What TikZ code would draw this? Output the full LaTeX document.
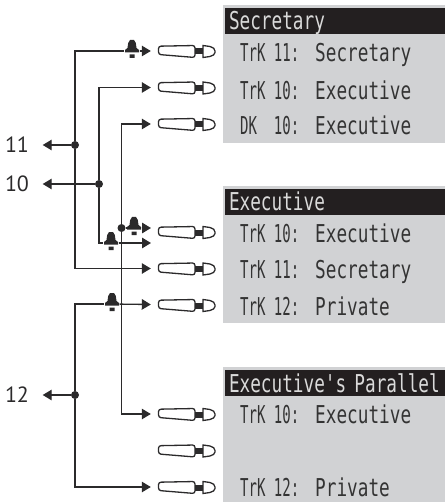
\documentclass[tikz,border=0pt]{standalone}
\usepackage{fontspec}
\usepackage{tikz}
\usetikzlibrary{arrows.meta}
\setmainfont{PT Sans}
\newfontfamily\lcdfont[FakeStretch=0.72]{DejaVu Sans Mono}
\newfontfamily\lcdtight[FakeStretch=0.57]{DejaVu Sans Mono}
\definecolor{ink}{HTML}{2B2A2B}
\definecolor{lcdgrey}{HTML}{D1D2D4}
\definecolor{lcdblack}{HTML}{231F20}
\definecolor{lcdlight}{HTML}{DADADA}
\definecolor{lcdink}{HTML}{333333}

\tikzset{
    wire/.style={draw=ink, line width=1.3pt},
    toset/.style={wire, ->, shorten >=6pt},
    tolabel/.style={wire, ->, shorten >=13.5pt},
    dot/.style={circle, fill=ink, inner sep=0pt, minimum size=8pt},
    trunk/.style={inner sep=0pt, text=ink, font=\fontsize{22}{22}\selectfont},
    panel/.style={fill=lcdgrey, inner sep=0pt, minimum width=222pt},
    header/.style={fill=lcdblack, text=lcdlight, inner sep=0pt, inner xsep=4pt, minimum height=26pt,
        text width=212pt, text height=18pt, text depth=0pt, font=\lcdfont\fontsize{24.6}{24.6}\selectfont},
    rowkey/.style={anchor=west, inner sep=0pt, text height=18pt, text depth=0pt, text=lcdink,
        font=\lcdtight\fontsize{24.6}{24.6}\selectfont},
    rowname/.style={anchor=west, inner sep=0pt, text height=18pt, text depth=0pt, text=lcdink,
        font=\lcdfont\fontsize{24.6}{24.6}\selectfont},
    bell/.style={inner sep=0pt, minimum width=15pt, minimum height=24pt, path picture={
        \fill [ink, shift={(path picture bounding box.center)}]
            (-7,1.5) -- (-7,-1) -- (-4.5,-3) -- (-3.8,-8) -- (-2,-11) -- (2,-11) -- (3.8,-8) -- (4.5,-3)
            -- (7,-1) -- (7,1.5) -- cycle (-2.5,3.5) rectangle (2.5,7);
    }},
    handset/.style={inner sep=0pt, minimum width=60pt, minimum height=18pt, path picture={
        \begin{scope}[shift={(path picture bounding box.center)}]
            \draw [ink, line width=1.3pt, fill=white, rounded corners=2.5pt]
                (-28.5,-4.8) -- (8,-5.5) -- (8,6.5) -- (-28.5,3.5) -- cycle;
            \fill [ink] (8,-2.5) rectangle (16,3.5);
            \draw [ink, line width=1.3pt, fill=white]
                (16,-5.5) -- (23,-4.5) .. controls (26,-4) and (28,-2) .. (28,0) -- (28,1.5)
                .. controls (28,3) and (26,5) .. (23,5.5) -- (16,6.5) -- cycle;
        \end{scope}
    }},
}

\begin{document}
\begin{tikzpicture}[x=1pt, y=-1pt, >={Triangle[length=9pt,width=10.5pt]}, node distance=36.5pt]
    \useasboundingbox (0,0) rectangle (445,502);

    % Panels
    \node [panel, minimum height=138pt]     (panelS) at (334,74)    {};
    \node [panel, minimum height=137pt]     (panelE) at (334,254.5) {};
    \node [panel, minimum height=135pt]     (panelP) at (334,434.5) {};
    \node [header]                          (headS)  at (335,21)    {Secretary};
    \node [header]                          (headE)  at (335,202)   {Executive};
    \node [header]                          (headP)  at (335,383)   {Executive's Parallel};

    % Panel rows
    \node [rowkey]  (keyS1)  at (240,52.5) {TrK 11:};
    \node [rowname] (nameS1) at (315,52.5) {Secretary};
    \node [rowkey]  (keyS2)  at (240,90.5) {TrK 10:};
    \node [rowname] (nameS2) at (315,90.5) {Executive};
    \node [rowkey]  (keyS3)  at (240,126)  {DK\ \ 10:};
    \node [rowname] (nameS3) at (315,126)  {Executive};
    \node [rowkey]  (keyE1)  at (240,233)  {TrK 10:};
    \node [rowname] (nameE1) at (315,233)  {Executive};
    \node [rowkey]  (keyE2)  at (240,269)  {TrK 11:};
    \node [rowname] (nameE2) at (315,269)  {Secretary};
    \node [rowkey]  (keyE3)  at (240,306)  {TrK 12:};
    \node [rowname] (nameE3) at (315,306)  {Private};
    \node [rowkey]  (keyP1)  at (240,414)  {TrK 10:};
    \node [rowname] (nameP1) at (315,414)  {Executive};
    \node [rowkey]  (keyP3)  at (240,487)  {TrK 12:};
    \node [rowname] (nameP3) at (315,487)  {Private};

    % Handsets
    \node [handset] (setS1) at (187,51)   {};
    \node [handset] (setS2) [below of=setS1] {};
    \node [handset] (setS3) [below of=setS2] {};
    \node [handset] (setE1) at (187,232)  {};
    \node [handset] (setE2) [below of=setE1] {};
    \node [handset] (setE3) [below of=setE2] {};
    \node [handset] (setP1) at (187,414)  {};
    \node [handset] (setP2) [below of=setP1] {};
    \node [handset] (setP3) [below of=setP2] {};

    % Bells
    \node [bell] (bellS1) at (132,51)  {};
    \node [bell] (bellB)  at (111,243) {};
    \node [bell] (bellE1) at (134,228) {};
    \node [bell] (bellE3) at (112,304) {};

    % Trunks and junctions
    \node [trunk] (trunk11) at (17,145) {11};
    \node [trunk] (trunk10) at (17,184) {10};
    \node [trunk] (trunk12) at (17,395) {12};
    \node [dot]   (dot11)   at (75,145)    {};
    \node [dot]   (dot10)   at (99,184)    {};
    \node [dot]   (dot12)   at (75,395)    {};
    \node [dot]   (dotE)    at (121.5,228) {};
    \coordinate   (tipE1)   at (151,228);
    \coordinate   (tipB)    at (151,243);

    % Paths
    \draw [tolabel] (dot11) -- (trunk11);
    \draw [tolabel] (dot10) -- (trunk10);
    \draw [tolabel] (dot12) -- (trunk12);

    \draw [wire]    (dot11) |- (bellS1);
    \draw [toset]   (bellS1) -- (setS1);
    \draw [toset]   (dot11) |- (setE2);

    \draw [toset]   (dot10) |- (setS2);
    \draw [wire]    (dot10) |- (bellB);
    \draw [wire,->] (bellB) -- (tipB);

    \draw [toset]   (dotE) |- (setS3);
    \draw [toset]   (dotE) |- (setP1);
    \draw [wire]    (dotE) -- (bellE1);
    \draw [wire,->] (bellE1) -- (tipE1);

    \draw [wire]    (dot12) |- (bellE3);
    \draw [toset]   (bellE3) -- (setE3);
    \draw [toset]   (dot12) |- (setP3);
\end{tikzpicture}
\end{document}
